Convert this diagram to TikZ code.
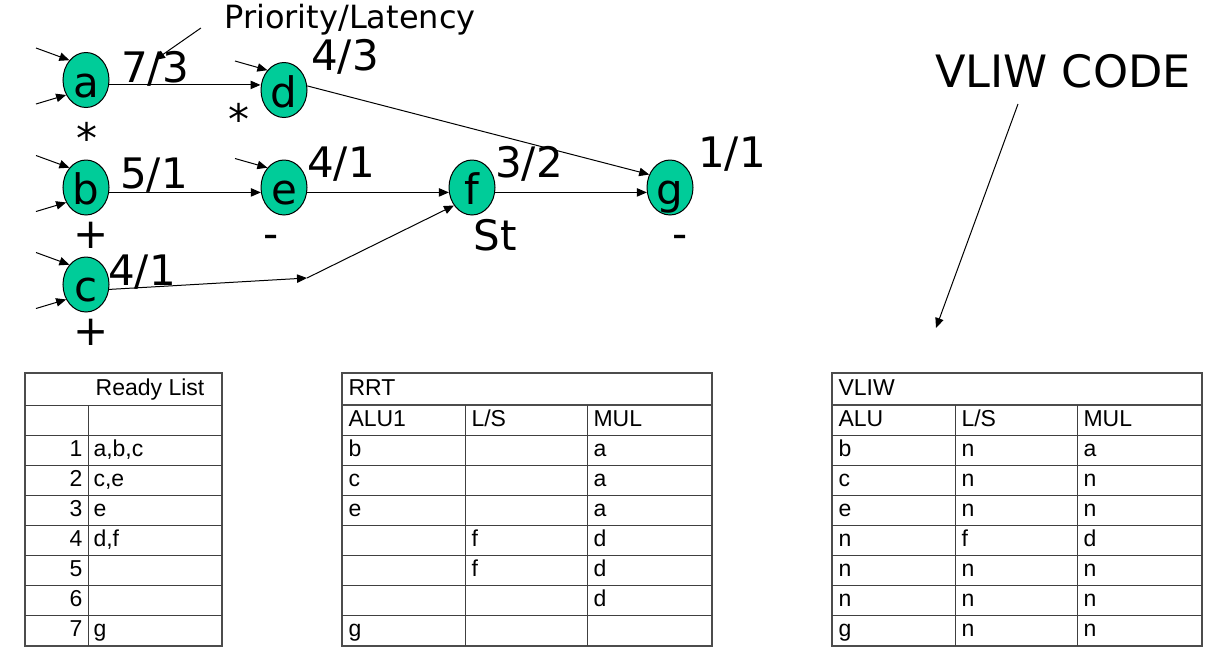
\documentclass[tikz,border=0pt]{standalone}
\usepackage{fontspec}
\setmainfont{DejaVu Sans}
\newfontfamily\tablefont{Liberation Sans}
\usetikzlibrary{arrows.meta, shapes.geometric, calc}
\definecolor{opgreen}{HTML}{00CC99}

\begin{document}
\begin{tikzpicture}[
		x=0.5pt, y=-0.5pt,
		>={Triangle[length=5pt, width=4.2pt]}, line width=0.5pt,
		op/.style={ellipse, draw=black, fill=opgreen, minimum width=23pt, minimum height=27.5pt, inner sep=0pt, text height=17pt, text depth=0pt, font=\fontsize{21}{21}\selectfont},
		lbl/.style={anchor=base, inner sep=0pt, font=\fontsize{21}{21}\selectfont},
		cell/.style={anchor=base west, inner sep=0pt, font=\tablefont\fontsize{11.5}{13}\selectfont},
		tabline/.style={draw=black!75, line width=0.5pt},
		tabframe/.style={draw=black!70, line width=1pt}
		]
		\useasboundingbox (0,0) rectangle (1206,649);
		
		% Dependence graph
		\node[op] (a) at (86,80) {a};
		\node[op] (b) at (86,187.5) {b};
		\node[op] (c) at (86,284.5) {c};
		\node[op] (d) at (284,90) {d};
		\node[op] (e) at (284,187.5) {e};
		\node[op] (f) at (472,187.5) {f};
		\node[op] (g) at (670,187.5) {g};
		
		% Priority/Latency labels
		\node[lbl] (pa) at (155,82) {7/3};
		\node[lbl] (pd) at (345,70) {4/3};
		\node[lbl] (pb) at (154,188) {5/1};
		\node[lbl] (pe) at (341,177) {4/1};
		\node[lbl] (pc) at (142,285) {4/1};
		\node[lbl] (pf) at (529,177) {3/2};
		\node[lbl] (pg) at (732,167) {1/1};
		
		% Operation kinds
		\node[lbl] (ka) at (87,153) {*};
		\node[lbl] (kd) at (239,134) {*};
		\node[lbl] (kb) at (91,248) {+};
		\node[lbl] (ke) at (271,248) {-};
		\node[lbl] (kf) at (495,250) {St};
		\node[lbl] (kg) at (680,248) {-};
		\node[lbl] (kc) at (91,345) {+};
		
		\node[lbl, font=\fontsize{16}{16}\selectfont] (prio) at (350,28) {Priority/Latency};
		\node[lbl, font=\fontsize{22.3}{22}\selectfont] (vliwcode) at (1063,87) {VLIW CODE};
		
		% Inputs
		\foreach \n in {a,b,c} {
			\coordinate (\n-up) at ([shift={(-50,-32)}]\n.center);
			\coordinate (\n-low) at ([shift={(-50,24)}]\n.center);
			\draw[->] (\n-up) -- (\n.130);
			\draw[->] (\n-low) -- (\n.217);
		}
		\foreach \n in {d,e} {
			\coordinate (\n-up) at ([shift={(-49,-29)}]\n.center);
			\draw[->] (\n-up) -- (\n.130);
		}
		
		% Edges
		\draw[->] (a.-12) -- (d.west |- a.-12);
		\draw[->] (b.-12) -- (e.192);
		\draw[->] (e.-12) -- (f.192);
		\draw[->] (f.-12) -- (g.192);
		\draw[->] (d.10) -- (g.148);
		\coordinate (cjoin) at (307,278);
		\draw[->] (c.-12) -- (cjoin);
		\draw[->] (cjoin) -- (f.225);
		
		\coordinate (prioend) at (155,60);
		\draw[->] ([xshift=-11.5pt]prio.base west) -- (prioend);
		\coordinate (codeend) at (936,328);
		\draw[->] ([shift={(-45,17)}]vliwcode.base) -- (codeend);
		
		% Ready List
		\draw[tabframe] (25,373) rectangle (222,646);
		\foreach \y in {405,435,...,615} \draw[tabline] (25,\y) -- (222,\y);
		\draw[tabline] (88,405) -- (88,646);
		\node[cell, anchor=base] (rlhead) at (150,395) {Ready List};
		\foreach \t [count=\i] in {{a,b,c},{c,e},e,{d,f},{},{},g} {
			\node[cell, anchor=base east] (rn\i) at (83,{426+30*\i}) {\i};
			\node[cell] (rl\i) at (93,{426+30*\i}) {\t};
		}
		
		% RRT
		\draw[tabframe] (342,373) rectangle (712,646);
		\foreach \y in {435,465,...,615} \draw[tabline] (342,\y) -- (712,\y);
		\draw[tabframe] (342,405) -- (712,405);
		\foreach \x in {465,587} \draw[tabline] (\x,405) -- (\x,646);
		\node[cell] (rrthead) at (348,395) {RRT};
		\node[cell] (rrtalu) at (348,426) {ALU1};
		\node[cell] (rrtls) at (471,426) {L/S};
		\node[cell] (rrtmul) at (593,426) {MUL};
		\foreach \p/\q/\r [count=\i] in {b/{}/a, c/{}/a, e/{}/a, {}/f/d, {}/f/d, {}/{}/d, g/{}/{}} {
			\node[cell] (rrt\i a) at (348,{426+30*\i}) {\p};
			\node[cell] (rrt\i b) at (471,{426+30*\i}) {\q};
			\node[cell] (rrt\i c) at (593,{426+30*\i}) {\r};
		}
		
		% VLIW
		\draw[tabframe] (832,373) rectangle (1202,646);
		\foreach \y in {435,465,...,615} \draw[tabline] (832,\y) -- (1202,\y);
		\draw[tabframe] (832,405) -- (1202,405);
		\foreach \x in {955,1077} \draw[tabline] (\x,405) -- (\x,646);
		\node[cell] (vlhead) at (838,395) {VLIW};
		\node[cell] (vlalu) at (838,426) {ALU};
		\node[cell] (vlls) at (961,426) {L/S};
		\node[cell] (vlmul) at (1083,426) {MUL};
		\foreach \p/\q/\r [count=\i] in {b/n/a, c/n/n, e/n/n, n/f/d, n/n/n, n/n/n, g/n/n} {
			\node[cell] (vl\i a) at (838,{426+30*\i}) {\p};
			\node[cell] (vl\i b) at (961,{426+30*\i}) {\q};
			\node[cell] (vl\i c) at (1083,{426+30*\i}) {\r};
		}
		
	\end{tikzpicture}
\end{document}
